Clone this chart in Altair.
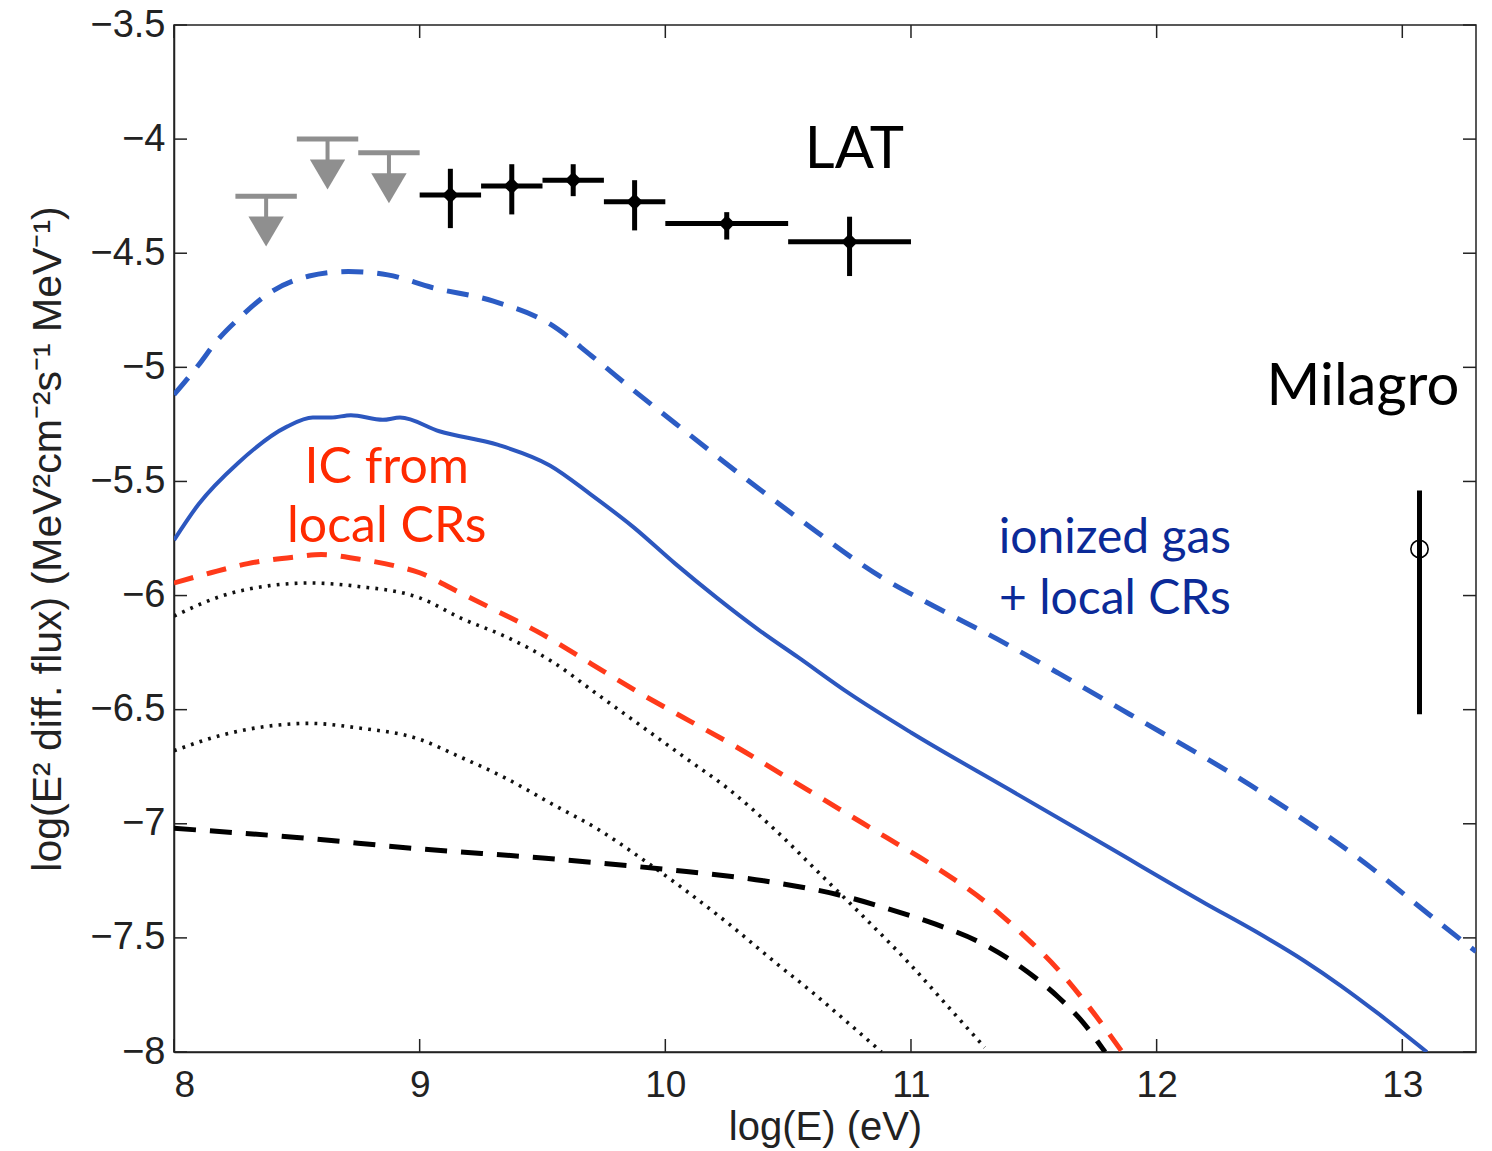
import altair as alt
import pandas as pd

# ---------------- data ----------------
# blue dashed curve
bd_x = [8.0, 8.1, 8.17, 8.27, 8.38, 8.55, 8.71, 8.87, 9.05, 9.3, 9.53, 9.7, 9.87, 10.04, 10.21,
        10.54, 10.88, 11.1, 11.35, 11.6, 11.89, 12.38, 12.87, 13.1, 13.3]
bd_y = [-5.12, -4.99, -4.89, -4.78, -4.68, -4.60, -4.58, -4.595, -4.65, -4.71, -4.81, -4.95, -5.10, -5.245,
        -5.39, -5.66, -5.92, -6.05, -6.19, -6.34, -6.52, -6.83, -7.19, -7.39, -7.56]

# blue solid curve
bs_x = [8.0, 8.1, 8.26, 8.46, 8.565, 8.64, 8.72, 8.85, 8.92, 9.08, 9.32, 9.53, 9.7, 9.87, 10.04,
        10.21, 10.38, 10.54, 10.75, 11.0, 11.4, 11.8, 12.2, 12.4, 12.6, 12.75, 12.9, 13.1]
bs_y = [-5.757, -5.60, -5.42, -5.26, -5.22, -5.22, -5.21, -5.23, -5.22, -5.28, -5.34, -5.43, -5.56, -5.70,
        -5.86, -6.01, -6.15, -6.27, -6.43, -6.60, -6.85, -7.10, -7.35, -7.47, -7.60, -7.71, -7.83, -8.0]

# red dashed curve (IC from local CRs)
rd_x = [8.0, 8.15, 8.3, 8.5, 8.6, 8.75, 8.9, 9.0, 9.15, 9.3, 9.5, 9.7, 9.9, 10.1, 10.3, 10.5, 10.7,
        10.9, 11.1, 11.3, 11.45, 11.6, 11.73, 11.86]
rd_y = [-5.945, -5.90, -5.86, -5.83, -5.82, -5.84, -5.87, -5.90, -5.98, -6.06, -6.17, -6.30, -6.43, -6.55,
        -6.67, -6.80, -6.93, -7.06, -7.19, -7.34, -7.48, -7.64, -7.81, -8.0]

# black dashed curve
kd_x = [8.0, 8.5, 9.0, 9.5, 10.0, 10.4, 10.7, 10.9, 11.1, 11.3, 11.45, 11.6, 11.7, 11.79]
kd_y = [-7.02, -7.06, -7.11, -7.15, -7.20, -7.25, -7.31, -7.37, -7.44, -7.53, -7.63, -7.76, -7.87, -8.0]

# upper dotted curve
du_x = [8.0, 8.2, 8.4, 8.55, 8.75, 9.0, 9.17, 9.35, 9.54, 9.72, 9.9, 10.08, 10.26, 10.45, 10.63,
        10.8, 11.0, 11.15, 11.3]
du_y = [-6.09, -6.00, -5.955, -5.945, -5.96, -6.01, -6.10, -6.18, -6.29, -6.43, -6.57, -6.71, -6.85,
        -7.03, -7.22, -7.40, -7.62, -7.80, -7.98]

# lower dotted curve
dl_x = [8.0, 8.2, 8.4, 8.55, 8.75, 9.0, 9.15, 9.35, 9.55, 9.72, 9.9, 10.08, 10.26, 10.45, 10.6, 10.72, 10.88]
dl_y = [-6.68, -6.61, -6.57, -6.56, -6.58, -6.63, -6.70, -6.80, -6.92, -7.02, -7.15, -7.29, -7.44,
        -7.61, -7.74, -7.85, -8.0]

# LAT points
lat_x = [9.125, 9.375, 9.625, 9.875, 10.25, 10.75]
lat_xlo = [9.0, 9.25, 9.5, 9.75, 10.0, 10.5]
lat_xhi = [9.25, 9.5, 9.75, 10.0, 10.5, 11.0]
lat_y = [-4.245, -4.205, -4.18, -4.275, -4.37, -4.45]
lat_ylo = [-4.39, -4.33, -4.25, -4.40, -4.44, -4.60]
lat_yhi = [-4.13, -4.11, -4.11, -4.18, -4.32, -4.34]

# LAT upper limits
ul_x = [8.375, 8.625, 8.875]
ul_xlo = [8.25, 8.5, 8.75]
ul_xhi = [8.5, 8.75, 9.0]
ul_y = [-4.25, -4.0, -4.06]

# Milagro
mil_x = [13.07]
mil_y = [-5.796]
mil_ylo = [-6.52]
mil_yhi = [-5.54]

# annotations
ann_text = ["LAT", "Milagro"]
ann_x = [10.77, 12.84]
ann_y = [-4.05, -5.09]
ic_text = ["IC from", "local CRs"]
ic_x = [8.866, 8.866]
ic_y = [-5.44, -5.70]
ion_text = ["ionized gas", "+ local CRs"]
ion_x = [11.83, 11.83]
ion_y = [-5.75, -6.02]

x_ticks = [8, 9, 10, 11, 12, 13]
y_ticks = [-8, -7.5, -7, -6.5, -6, -5.5, -5, -4.5, -4, -3.5]

# ---------------- chart ----------------
W, H = 1302, 1027
FONT = "Liberation Sans"
TXT = "Lato"
AX = "#222222"

xs = alt.Scale(domain=[8, 13.3], nice=False, zero=False)
ys = alt.Scale(domain=[-8, -3.5], nice=False, zero=False)

x_axis = alt.Axis(values=x_ticks, format="d", ticks=False, grid=False,
                  labelFont=FONT, labelFontSize=37, labelColor=AX, labelPadding=15,
                  title="log(E) (eV)", titleFont=FONT, titleFontSize=40, titleFontWeight="normal",
                  titleColor=AX, titlePadding=4, domainColor=AX, domainWidth=1.5)
y_axis = alt.Axis(values=y_ticks, ticks=False, grid=False,
                  labelExpr="replace(format(datum.value, '~g'), '-', '\u2212')",
                  labelFont=FONT, labelFontSize=38, labelColor=AX, labelPadding=9,
                  title="log(E\u00b2 diff. flux) (MeV\u00b2cm\u207b\u00b2s\u207b\u00b9 MeV\u207b\u00b9)",
                  titleFont=FONT, titleFontSize=41, titleFontWeight="normal",
                  titleColor=AX, titlePadding=20, domainColor=AX, domainWidth=1.5)


def X(f):
    return alt.X(f, type="quantitative", scale=xs, axis=x_axis)


def Y(f):
    return alt.Y(f, type="quantitative", scale=ys, axis=y_axis)


def curve(xv, yv, color, width, dash=None):
    df = pd.DataFrame({"x": xv, "y": yv})
    kw = dict(color=color, strokeWidth=width, interpolate="monotone", clip=True)
    if dash is not None:
        kw["strokeDash"] = dash
    return alt.Chart(df).mark_line(**kw).encode(x=X("x"), y=Y("y"), order="x:Q")


layers = []
layers.append(curve(du_x, du_y, "#111111", 3.6, [2.8, 6.2]))
layers.append(curve(dl_x, dl_y, "#111111", 3.6, [2.8, 6.2]))
layers.append(curve(kd_x, kd_y, "#000000", 5, [22, 14]))
layers.append(curve(rd_x, rd_y, "#ff3a1a", 5, [20, 14]))
layers.append(curve(bs_x, bs_y, "#2c57bf", 4))
layers.append(curve(bd_x, bd_y, "#2c5cc4", 5, [22, 14]))

# ticks (inside, on all four sides)
yt = pd.DataFrame({"v": y_ticks})
xt = pd.DataFrame({"v": x_ticks})
tk = dict(color=AX, strokeWidth=1.5)
layers.append(alt.Chart(yt).mark_rule(**tk).encode(y=Y("v"), x=alt.value(0), x2=alt.value(13)))
layers.append(alt.Chart(yt).mark_rule(**tk).encode(y=Y("v"), x=alt.value(W - 13), x2=alt.value(W)))
layers.append(alt.Chart(xt).mark_rule(**tk).encode(x=X("v"), y=alt.value(H - 13), y2=alt.value(H)))
layers.append(alt.Chart(xt).mark_rule(**tk).encode(x=X("v"), y=alt.value(0), y2=alt.value(13)))

# upper limits
ul = pd.DataFrame({"x": ul_x, "xlo": ul_xlo, "xhi": ul_xhi, "y": ul_y})
ul["shaft"] = ul["y"] - 0.11
ul["head"] = ul["y"] - 0.155
GRAY = "#8f8f8f"
layers.append(alt.Chart(ul).mark_rule(color=GRAY, strokeWidth=5).encode(x=X("xlo"), x2="xhi", y=Y("y")))
layers.append(alt.Chart(ul).mark_rule(color=GRAY, strokeWidth=4).encode(x=X("x"), y=Y("y"), y2="shaft"))
layers.append(alt.Chart(ul).mark_point(shape="M-1,-0.85L1,-0.85L0,0.85Z", filled=True, color=GRAY,
                                       opacity=1, size=1250).encode(x=X("x"), y=Y("head")))

# LAT points
lat = pd.DataFrame({"x": lat_x, "xlo": lat_xlo, "xhi": lat_xhi, "y": lat_y, "ylo": lat_ylo, "yhi": lat_yhi})
layers.append(alt.Chart(lat).mark_rule(color="#000000", strokeWidth=5).encode(x=X("xlo"), x2="xhi", y=Y("y")))
layers.append(alt.Chart(lat).mark_rule(color="#000000", strokeWidth=5).encode(x=X("x"), y=Y("ylo"), y2="yhi"))
layers.append(alt.Chart(lat).mark_point(shape="diamond", filled=True, color="#000000", opacity=1,
                                        size=280).encode(x=X("x"), y=Y("y")))

# Milagro
mil = pd.DataFrame({"x": mil_x, "y": mil_y, "ylo": mil_ylo, "yhi": mil_yhi})
layers.append(alt.Chart(mil).mark_rule(color="#000000", strokeWidth=5).encode(x=X("x"), y=Y("ylo"), y2="yhi"))
layers.append(alt.Chart(mil).mark_point(shape="circle", filled=False, color="#000000", strokeWidth=1.6,
                                        opacity=1, size=300).encode(x=X("x"), y=Y("y")))

# annotations
ann = pd.DataFrame({"x": ann_x, "y": ann_y, "t": ann_text})
layers.append(alt.Chart(ann).mark_text(font=TXT, fontSize=58, color="#000000", align="center",
                                       baseline="middle").encode(x=X("x"), y=Y("y"), text="t"))
ic = pd.DataFrame({"x": ic_x, "y": ic_y, "t": ic_text})
layers.append(alt.Chart(ic).mark_text(font=TXT, fontSize=50, color="#ff2a00", align="center",
                                      baseline="middle").encode(x=X("x"), y=Y("y"), text="t"))
ion = pd.DataFrame({"x": ion_x, "y": ion_y, "t": ion_text})
layers.append(alt.Chart(ion).mark_text(font=TXT, fontSize=48, color="#0b2a98", align="center",
                                       baseline="middle").encode(x=X("x"), y=Y("y"), text="t"))

chart = alt.layer(*layers).properties(
    width=W, height=H,
    autosize=alt.AutoSizeParams(type="none"),
    padding={"left": 174, "top": 25, "right": 16, "bottom": 99},
    background="#ffffff",
).configure_view(stroke=AX, strokeWidth=1.5)

chart.save("out.html", embed_options={"renderer": "svg", "actions": False})
